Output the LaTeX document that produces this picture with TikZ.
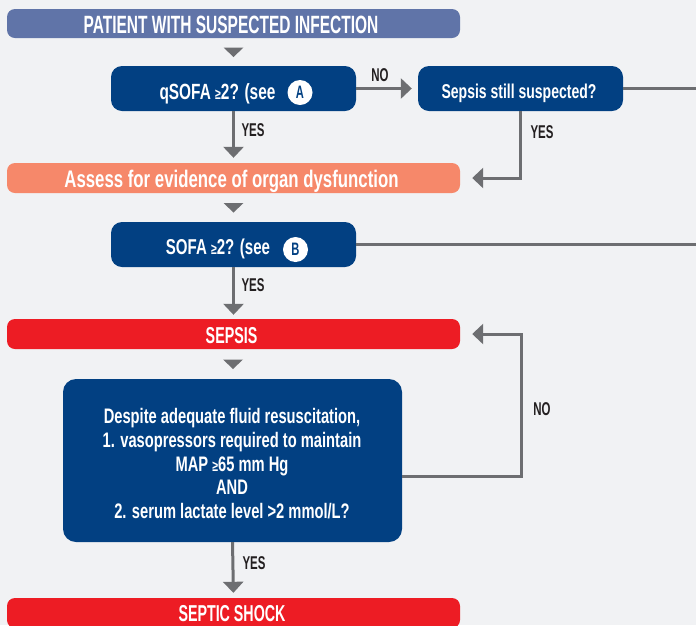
\documentclass[tikz,border=0pt]{standalone}
\usepackage{fontspec}
\setmainfont{Liberation Sans}[FakeStretch=0.70]
\newfontfamily\capsfont{Liberation Sans}[FakeStretch=0.62]
\usetikzlibrary{arrows.meta,calc}
\definecolor{bg}{HTML}{F1F2F4}
\definecolor{slate}{HTML}{6074A8}
\definecolor{navy}{HTML}{024082}
\definecolor{salmon}{HTML}{F6886A}
\definecolor{sred}{HTML}{ED1C24}
\definecolor{agray}{HTML}{6D6E71}
\definecolor{lbl}{HTML}{231F20}
\newcommand{\smge}{{\fontsize{15}{15}\selectfont ≥}}
\tikzset{
  widebox/.style={rounded corners=8pt, minimum width=453pt, minimum height=30pt, inner sep=0pt},
  qbox/.style={fill=navy, rounded corners=11pt, inner sep=0pt},
  btext/.style={text=white, inner sep=0pt, anchor=base},
  lab/.style={text=lbl, font=\capsfont\bfseries\fontsize{18.5}{18.5}\selectfont, inner sep=0pt, anchor=base},
  conn/.style={draw=agray, line width=3pt, -{Triangle[length=11pt,width=20pt]}},
  plainline/.style={draw=agray, line width=3pt},
  circ/.style={circle, fill=white, minimum size=25pt, inner sep=0pt, text=navy, font=\capsfont\bfseries\fontsize{18}{18}\selectfont},
  drop/.style={fill=agray},
}
\begin{document}
\begin{tikzpicture}[x=1pt,y=-1pt]
\useasboundingbox (0,0) rectangle (696,625);
\fill[bg] (0,0) rectangle (696,625);
\clip (0,0) rectangle (696,625);

% boxes
\node[widebox, fill=slate] (top) at (233.5,23.5) [minimum height=29pt] {};
\node[qbox, minimum width=245pt, minimum height=45pt] (qsofa) at (233.5,88.5) {};
\node[qbox, minimum width=205pt, minimum height=45pt] (sss) at (520.5,88.5) {};
\node[widebox, fill=salmon] (assess) at (233.5,178) {};
\node[qbox, minimum width=245pt, minimum height=45pt] (sofa) at (233.5,244.5) {};
\node[widebox, fill=sred] (sepsis) at (233.5,334) {};
\node[qbox, rounded corners=13pt, minimum width=339pt, minimum height=163pt] (big) at (232.5,460.5) {};
\node[widebox, fill=sred] (shock) at (233.5,613) {};

% texts
\node[btext, font=\capsfont\bfseries\fontsize{25}{25}\selectfont] (topT) at (231,33) {PATIENT WITH SUSPECTED INFECTION};
\node[btext, font=\bfseries\fontsize{22}{22}\selectfont] (qsofaT) at (217.5,99) {qSOFA \smge2? (see};
\node[circ] (cA) at (300,92.5) {A};
\node[btext, font=\bfseries\fontsize{20}{20}\selectfont] (sssT) at (519,98) {Sepsis still suspected?};
\node[btext, font=\bfseries\fontsize{24}{24}\selectfont] (assessT) at (231.5,187) {Assess for evidence of organ dysfunction};
\node[btext, font=\bfseries\fontsize{21.5}{21.5}\selectfont] (sofaT) at (218,254) {SOFA \smge2? (see};
\node[circ] (cB) at (295.5,249.5) {B};
\node[btext, font=\capsfont\bfseries\fontsize{23}{23}\selectfont] (sepsisT) at (231.5,343) {SEPSIS};
\node[btext, font=\bfseries\fontsize{21}{21}\selectfont] (t1) at (232,423) {Despite adequate fluid resuscitation,};
\node[btext, font=\bfseries\fontsize{21}{21}\selectfont] (t2) at (232,447) {1. vasopressors required to maintain};
\node[btext, font=\bfseries\fontsize{21}{21}\selectfont] (t3) at (232,471) {MAP \smge65 mm Hg};
\node[btext, font=\bfseries\fontsize{21}{21}\selectfont] (t4) at (232,494.5) {AND};
\node[btext, font=\bfseries\fontsize{21}{21}\selectfont] (t5) at (232,518) {2. serum lactate level >2 mmol/L?};
\node[btext, font=\capsfont\bfseries\fontsize{23}{23}\selectfont] (shockT) at (232,621) {SEPTIC SHOCK};

% drops between stacked boxes
\coordinate (d1) at ($(top.south)!0.5!(qsofa.north)$);
\coordinate (d2) at ($(assess.south)!0.5!(sofa.north)$);
\coordinate (d3) at ($(sepsis.south)!0.5!(big.north)$);
\foreach \d in {d1,d2,d3}{
  \fill[drop] ($(\d)+(-10,-4.5)$) -- ($(\d)+(10,-4.5)$) -- ($(\d)+(0,5)$) -- cycle;
}

% connectors
\draw[conn, shorten >=6pt] (qsofa.east) -- (sss.west);
\node[lab] (no1) at (380,81) {NO};
\coordinate (exit1) at (700,88.5);
\draw[plainline] (sss.east) -- (exit1);
\draw[conn, shorten >=12pt] (sss.south) |- (assess.east);
\node[lab] (yes2) at (542,138) {YES};
\draw[conn, shorten >=5pt] (qsofa.south) -- (assess.north);
\node[lab] (yes1) at (253,136) {YES};
\coordinate (exit2) at (700,244.5);
\draw[plainline] (sofa.east) -- (exit2);
\draw[conn, shorten >=4pt] (sofa.south) -- (sepsis.north);
\node[lab] (yes3) at (253,291) {YES};
\coordinate (loop) at (521,476);
\draw[conn, shorten >=12pt] (big.east |- loop) -- (loop) |- (sepsis.east);
\node[lab] (no2) at (542,415) {NO};
\draw[conn, shorten >=5pt] (big.south) -- (shock.north);
\node[lab] (yes4) at (254,569) {YES};
\end{tikzpicture}
\end{document}
